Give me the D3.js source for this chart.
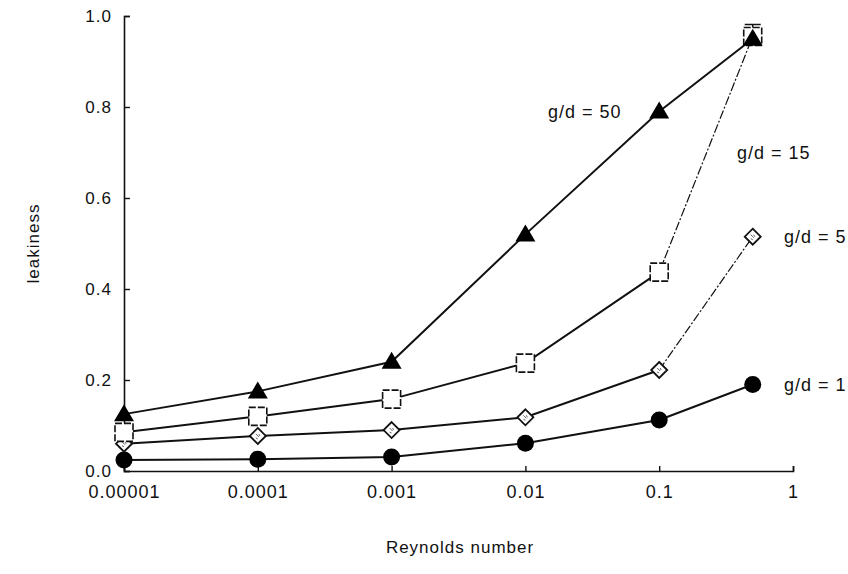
<!DOCTYPE html>
<html><head><meta charset="utf-8">
<script src="https://cdn.jsdelivr.net/npm/d3@7"></script>
<style>body{margin:0;background:#fff;} text{font-family:"Liberation Sans",Arial,Helvetica,sans-serif;fill:#111;}</style>
</head><body>
<svg id="c" width="848" height="574"></svg>
<script>
const reynolds = [0.00001, 0.0001, 0.001, 0.01, 0.1, 0.5];
const xTicks = [0.00001, 0.0001, 0.001, 0.01, 0.1, 1];
const xTickLabels = ["0.00001", "0.0001", "0.001", "0.01", "0.1", "1"];
const yTicks = [0, 0.2, 0.4, 0.6, 0.8, 1.0];
const gd50 = [0.125, 0.175, 0.24, 0.52, 0.79, 0.95];
const gd15 = [0.085, 0.12, 0.158, 0.237, 0.437, 0.955];
const gd5  = [0.06, 0.077, 0.09, 0.118, 0.222, 0.515];
const gd1  = [0.024, 0.026, 0.031, 0.061, 0.112, 0.19];
const seriesNames = ["g/d = 50", "g/d = 15", "g/d = 5", "g/d = 1"];

const svg = d3.select("#c");
const x = d3.scaleLog().domain([0.00001, 1]).range([124, 793]);
const y = d3.scaleLinear().domain([0, 1]).range([471, 16]);

// axes
const xAxis = d3.axisBottom(x).tickValues(xTicks).tickFormat((d,i)=>xTickLabels[i]).tickSize(-5).tickPadding(14);
const gx = svg.append("g").attr("transform", `translate(0,${y(0)})`).call(xAxis);
const yAxis = d3.axisLeft(y).tickValues(yTicks).tickFormat(d3.format(".1f")).tickSize(-6).tickPadding(12);
const gy = svg.append("g").attr("transform", `translate(${x(0.00001)},0)`).call(yAxis);
[gx, gy].forEach(g => {
  g.select(".domain").attr("stroke", "#111").attr("stroke-width", 1.6);
  g.selectAll(".tick line").attr("stroke", "#111").attr("stroke-width", 1.4);
  g.selectAll(".tick text").attr("font-size", 18).attr("letter-spacing", "1px")
    .attr("font-family", "Liberation Sans, Arial, sans-serif").attr("fill", "#111");
});
gy.selectAll(".tick text").attr("font-size", 17).attr("dy", "0.3em");

const pts = arr => arr.map((v,i)=>[x(reynolds[i]), y(v)]);
const line = d3.line();

function drawLine(arr, dashLast) {
  const p = pts(arr);
  const main = dashLast ? p.slice(0, p.length-1) : p;
  svg.append("path").attr("d", line(main)).attr("fill","none").attr("stroke","#111").attr("stroke-width",2);
  if (dashLast) {
    svg.append("path").attr("d", line(p.slice(p.length-2))).attr("fill","none")
      .attr("stroke","#111").attr("stroke-width",1.2).attr("stroke-dasharray","9,2,2,2");
  }
}
drawLine(gd1, false);
drawLine(gd5, true);
drawLine(gd15, true);
drawLine(gd50, false);

// error bar on g/d=15 last point
{
  const p = pts(gd15)[5];
  svg.append("path").attr("d", `M${p[0]-8},${p[1]-12}H${p[0]+8}M${p[0]},${p[1]-12}V${p[1]+2}`)
    .attr("stroke","#111").attr("stroke-width",1.5).attr("fill","none");
}

// circles g/d=1
svg.selectAll(".c1").data(pts(gd1)).join("circle")
  .attr("cx", d=>d[0]).attr("cy", d=>d[1]).attr("r", 8.5).attr("fill", "#000");
// diamonds g/d=5
const dia = svg.selectAll(".d5").data(pts(gd5)).join("g").attr("transform", d=>`translate(${d[0]},${d[1]})`);
dia.append("path").attr("d","M0,-8L8,0L0,8L-8,0Z").attr("fill","#fff").attr("stroke","#111").attr("stroke-width",1.8);
dia.append("path").attr("d","M-2,-2L1,1M1,-2L2,0M-2,2L0,3").attr("stroke","#666").attr("stroke-width",1);
// squares g/d=15
svg.selectAll(".s15").data(pts(gd15)).join("rect")
  .attr("x", d=>d[0]-9).attr("y", d=>d[1]-9).attr("width", 18).attr("height", 18)
  .attr("fill","#fff").attr("stroke","#111").attr("stroke-width",1.6).attr("stroke-dasharray","7,2");
// triangles g/d=50
svg.selectAll(".t50").data(pts(gd50)).join("path")
  .attr("transform", d=>`translate(${d[0]},${d[1]})`)
  .attr("d","M0,-10L10,7L-10,7Z").attr("fill","#000");

// labels
const labelPos = [[548, gd50[4], "start"], [737, 0.70, "start"], [784, gd5[5], "start"], [784, gd1[5], "start"]];
seriesNames.forEach((n,i)=>{
  svg.append("text").attr("x", labelPos[i][0]).attr("y", y(labelPos[i][1])).attr("dy","0.35em")
    .attr("font-size", 18).attr("letter-spacing","1px").text(n);
});
// axis titles
svg.append("text").attr("transform", `translate(33,${y(0.5)}) rotate(-90)`).attr("text-anchor","middle")
  .attr("dy","0.35em").attr("font-size",17).attr("letter-spacing","1px").text("leakiness");
svg.append("text").attr("x", 460).attr("y", 553).attr("text-anchor","middle")
  .attr("font-size",17).attr("letter-spacing","1px").text("Reynolds number");
</script>
</body></html>
